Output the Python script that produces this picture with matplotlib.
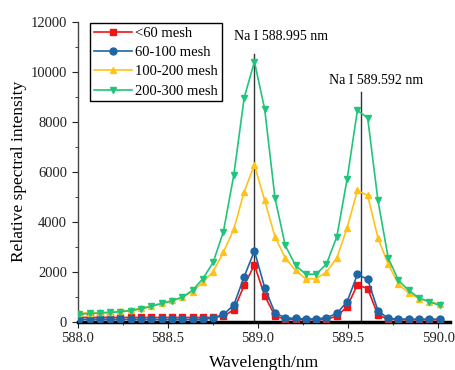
import matplotlib
matplotlib.use("Agg")
import matplotlib.pyplot as plt
from matplotlib.ticker import MultipleLocator

plt.rcParams["font.family"] = ["Liberation Serif", "DejaVu Serif"]

# wavelength sampling (nm)
wavelength = [
    588.010, 588.067, 588.124, 588.181, 588.238, 588.296, 588.353, 588.410,
    588.467, 588.524, 588.581, 588.638, 588.695, 588.752, 588.809, 588.867,
    588.924, 588.981, 589.038, 589.095, 589.152, 589.209, 589.266, 589.323,
    589.380, 589.438, 589.495, 589.552, 589.609, 589.666, 589.723, 589.780,
    589.837, 589.894, 589.951, 590.009,
]

mesh_lt60 = [
    170, 170, 170, 170, 170, 170, 170, 170, 170, 170, 170, 170, 170, 170,
    220, 480, 1450, 2270, 1040, 230, 100, 80, 80, 80, 100, 220, 600, 1480,
    1320, 270, 100, 80, 80, 80, 80, 80,
]
mesh_60_100 = [
    90, 90, 90, 90, 90, 90, 90, 90, 90, 90, 90, 90, 90, 150,
    290, 670, 1800, 2830, 1360, 350, 160, 130, 110, 110, 160, 330, 800, 1890,
    1700, 440, 130, 110, 100, 100, 100, 100,
]
mesh_100_200 = [
    340, 360, 370, 390, 420, 460, 540, 630, 750, 850, 980, 1200, 1580, 2000,
    2780, 3700, 5200, 6270, 4850, 3400, 2550, 2050, 1720, 1720, 1980, 2550,
    3750, 5250, 5050, 3350, 2300, 1500, 1150, 920, 800, 700,
]
mesh_200_300 = [
    300, 330, 340, 370, 400, 440, 520, 610, 730, 830, 980, 1260, 1720, 2370,
    3600, 5880, 8950, 10400, 8500, 4950, 3050, 2250, 1900, 1900, 2300, 3400,
    5700, 8450, 8150, 4850, 2550, 1650, 1250, 950, 800, 650,
]

series = [
    ("<60 mesh", mesh_lt60, "#f01414", "s"),
    ("60-100 mesh", mesh_60_100, "#1f66a5", "o"),
    ("100-200 mesh", mesh_100_200, "#ffc21a", "^"),
    ("200-300 mesh", mesh_200_300, "#1fc57a", "v"),
]

lines = [(588.981, 10700, "Na I 588.995 nm", 589.13, 11400),
         (589.571, 9170, "Na I 589.592 nm", 589.656, 9630)]

fig = plt.figure(figsize=(4.56, 3.70), dpi=100)
ax = fig.add_axes([0.170, 0.1305, 0.817, 0.811])

for name, vals, color, marker in series:
    ax.plot(wavelength, vals, color=color, lw=1.2, marker=marker,
            markersize=5, markeredgecolor=color, label=name, zorder=3)

for x, top, label, tx, ty in lines:
    ax.plot([x, x], [0, top], color="#333333", lw=1.0, zorder=2)
    ax.text(tx, ty, label, ha="center", va="center", fontsize=10)

ax.set_xlim(588.0, 590.066)
ax.set_ylim(0, 12000)
ax.xaxis.set_major_locator(MultipleLocator(0.5))
ax.xaxis.set_minor_locator(MultipleLocator(0.25))
ax.yaxis.set_major_locator(MultipleLocator(2000))
ax.yaxis.set_minor_locator(MultipleLocator(1000))
ax.xaxis.set_major_formatter(plt.FormatStrFormatter("%.1f"))
ax.tick_params(which="both", direction="out", labelsize=10.5, colors="#222222")
ax.tick_params(which="major", length=4)
ax.tick_params(which="minor", length=2.5)

ax.spines["top"].set_visible(False)
ax.spines["right"].set_visible(False)
ax.spines["bottom"].set_linewidth(2.5)
ax.spines["left"].set_linewidth(1.0)
ax.spines["left"].set_color("#444444")

ax.set_xlabel("Wavelength/nm", fontsize=12.5, labelpad=7)
ax.set_ylabel("Relative spectral intensity", fontsize=12.5, labelpad=3)

leg = ax.legend(loc="upper left", bbox_to_anchor=(0.034, 0.996), fontsize=10.5,
                fancybox=False, edgecolor="black", framealpha=1,
                handlelength=2.6, labelspacing=0.42, borderpad=0.25,
                handletextpad=0.25, borderaxespad=0)
leg.get_frame().set_linewidth(1.0)

fig.savefig("out.png", dpi=100)
